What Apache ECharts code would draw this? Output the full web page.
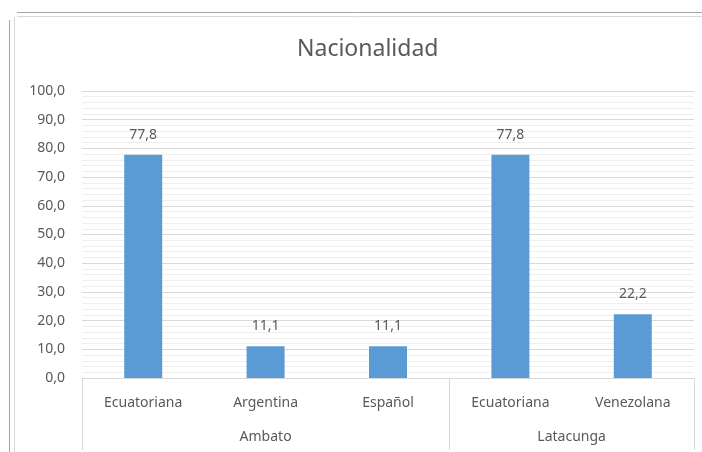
<!DOCTYPE html>
<html>
<head>
<meta charset="utf-8">
<script src="https://cdn.jsdelivr.net/npm/echarts@6/dist/echarts.min.js"></script>
<style>
  html, body { margin: 0; padding: 0; background: #fff; }
  #main { width: 702px; height: 452px; }
</style>
</head>
<body>
<div id="main"></div>
<script>
// datos del gráfico
var categories = ['Ecuatoriana', 'Argentina', 'Español', 'Ecuatoriana', 'Venezolana'];
var values = [77.8, 11.1, 11.1, 77.8, 22.2];
var groups = ['Ambato', 'Latacunga'];
var groupSizes = [3, 2];
var yTicks = [0, 10, 20, 30, 40, 50, 60, 70, 80, 90, 100];

// límites y centros de los grupos (en unidades de categoría)
var groupEdges = [0];
var groupCenters = [];
groupSizes.forEach(function (n, i) {
    var start = groupEdges[i];
    groupEdges.push(start + n);
    groupCenters.push(start + n / 2);
});

var font = 'Noto Sans, Liberation Sans, sans-serif';
var txt = '#595959';

var myChart = echarts.init(document.getElementById('main'));

var option = {
    backgroundColor: '#fff',
    animation: false,
    title: {
        text: 'Nacionalidad',
        left: 292,
        top: 33,
        textStyle: { color: txt, fontSize: 23, fontWeight: 'normal', fontFamily: font }
    },
    grid: { left: 82, right: 8, top: 91, bottom: 74 },
    graphic: [
        { type: 'line', shape: { x1: 17, y1: 12.5, x2: 702, y2: 12.5 }, style: { stroke: '#a6a6a6', lineWidth: 1 } },
        { type: 'line', shape: { x1: 17, y1: 16.5, x2: 702, y2: 16.5 }, style: { stroke: '#d9d9d9', lineWidth: 1 } },
        { type: 'line', shape: { x1: 9.5, y1: 20, x2: 9.5, y2: 452 }, style: { stroke: '#a6a6a6', lineWidth: 1 } },
        { type: 'line', shape: { x1: 14.5, y1: 17, x2: 14.5, y2: 452 }, style: { stroke: '#d9d9d9', lineWidth: 1 } }
    ],
    xAxis: [
        {
            type: 'category',
            data: categories,
            axisLine: { lineStyle: { color: '#d9d9d9' } },
            axisTick: { show: false },
            axisLabel: { color: txt, fontSize: 14, fontFamily: font, margin: 18, interval: 0 }
        },
        {
            type: 'value',
            position: 'bottom',
            min: 0,
            max: categories.length,
            axisLine: { show: false },
            splitLine: { show: false },
            axisTick: {
                show: true,
                customValues: groupEdges,
                length: 72,
                lineStyle: { color: '#d9d9d9' }
            },
            axisLabel: {
                customValues: groupCenters,
                color: txt,
                fontSize: 14,
                fontFamily: font,
                margin: 52,
                formatter: function (v) {
                    return groups[groupCenters.indexOf(v)] || '';
                }
            }
        }
    ],
    yAxis: {
        type: 'value',
        min: yTicks[0],
        max: yTicks[yTicks.length - 1],
        interval: 10,
        axisLine: { show: false },
        axisTick: { show: false },
        axisLabel: {
            color: txt,
            fontSize: 14,
            fontFamily: font,
            margin: 17,
            formatter: function (v) { return v.toFixed(1).replace('.', ','); }
        },
        splitLine: { lineStyle: { color: '#d9d9d9' } },
        minorTick: { show: false, splitNumber: 5 },
        minorSplitLine: { show: true, lineStyle: { color: '#efefef' } }
    },
    series: [{
        type: 'bar',
        data: values,
        barWidth: 38,
        itemStyle: { color: '#5b9bd5' },
        label: {
            show: true,
            position: 'top',
            distance: 13,
            color: txt,
            fontSize: 14,
            fontFamily: font,
            formatter: function (p) { return p.value.toFixed(1).replace('.', ','); }
        }
    }]
};

myChart.setOption(option);
</script>
</body>
</html>
